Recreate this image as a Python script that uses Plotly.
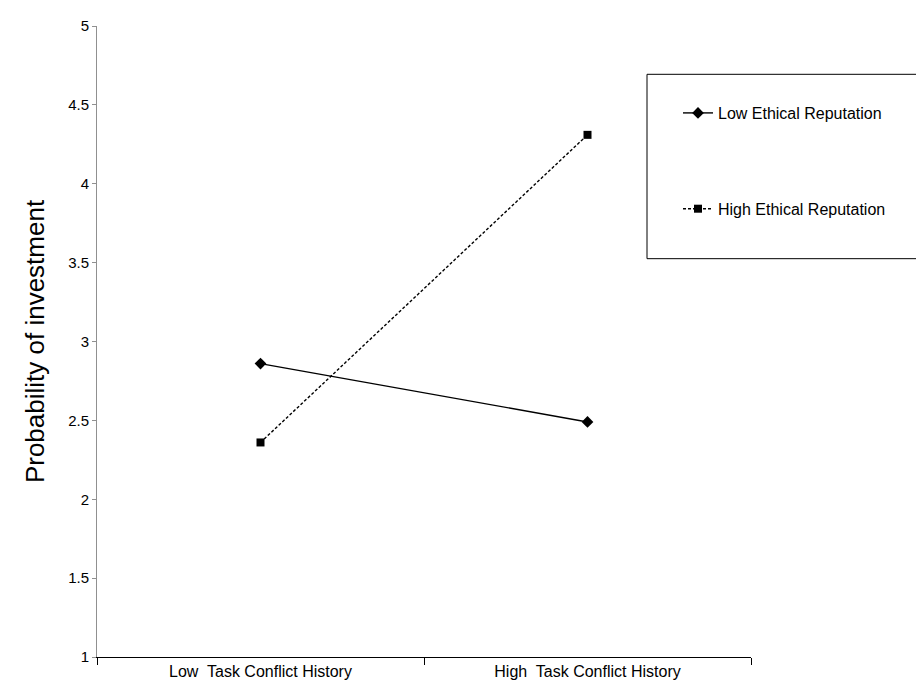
import plotly.graph_objects as go

categories = ["Low  Task Conflict History", "High  Task Conflict History"]
low_ethical = [2.86, 2.49]
high_ethical = [2.36, 4.31]
series_names = ["Low Ethical Reputation", "High Ethical Reputation"]
y_tick_vals = [1, 1.5, 2, 2.5, 3, 3.5, 4, 4.5, 5]
y_tick_text = ["1", "1.5", "2", "2.5", "3", "3.5", "4", "4.5", "5"]

# page body has an 8px margin; figure sized so page does not scroll
OFF = 8
W, H = 916, 681
L, T = 89, 9
pw, ph = 654, 640
R, B = W - L - pw, H - T - ph

def px_x(p):  # window pixel -> paper x
    return (p - OFF - L) / pw

def px_y(p):  # window pixel -> paper y
    return 1 - (p - OFF - T) / ph

fig = go.Figure()
fig.add_trace(go.Scatter(
    x=categories, y=low_ethical, name=series_names[0], mode="lines+markers",
    line=dict(color="black", width=1.4),
    marker=dict(symbol="diamond", size=9, color="black"),
    legendgroup="a",
))
fig.add_trace(go.Scatter(
    x=categories, y=high_ethical, name=series_names[1], mode="lines+markers",
    line=dict(color="black", width=1.4, dash="3px,2px"),
    marker=dict(symbol="square", size=8, color="black"),
    legendgroup="b",
))

fig.update_layout(
    width=W, height=H,
    margin=dict(l=L, r=R, t=T, b=B),
    paper_bgcolor="white", plot_bgcolor="white",
    font=dict(family="Arial, Liberation Sans, sans-serif", color="black", size=15),
    showlegend=True,
    legend=dict(
        x=px_x(678), y=px_y(88), xanchor="left", yanchor="top",
        bgcolor="rgba(0,0,0,0)", borderwidth=0,
        font=dict(size=16), tracegroupgap=72,
        itemwidth=30,
    ),
    xaxis=dict(
        type="category", range=[-0.5, 1.5],
        showline=True, linecolor="black", linewidth=1,
        ticks="outside", tickson="boundaries", ticklen=7, tickcolor="black",
        showgrid=False, zeroline=False,
        tickfont=dict(size=16),
    ),
    yaxis=dict(
        range=[1, 5], tickvals=y_tick_vals, ticktext=y_tick_text,
        showline=True, linecolor="#909090", linewidth=1,
        ticks="outside", ticklen=4, tickcolor="#909090",
        showgrid=False, zeroline=False,
        tickfont=dict(size=15),
        title=dict(text="Probability of investment", font=dict(size=26), standoff=16),
    ),
    shapes=[dict(
        type="rect", xref="paper", yref="paper",
        x0=px_x(647), x1=px_x(940), y0=px_y(253), y1=px_y(66),
        line=dict(color="black", width=1), fillcolor="rgba(0,0,0,0)",
    )],
)

fig.write_html("out.html")
